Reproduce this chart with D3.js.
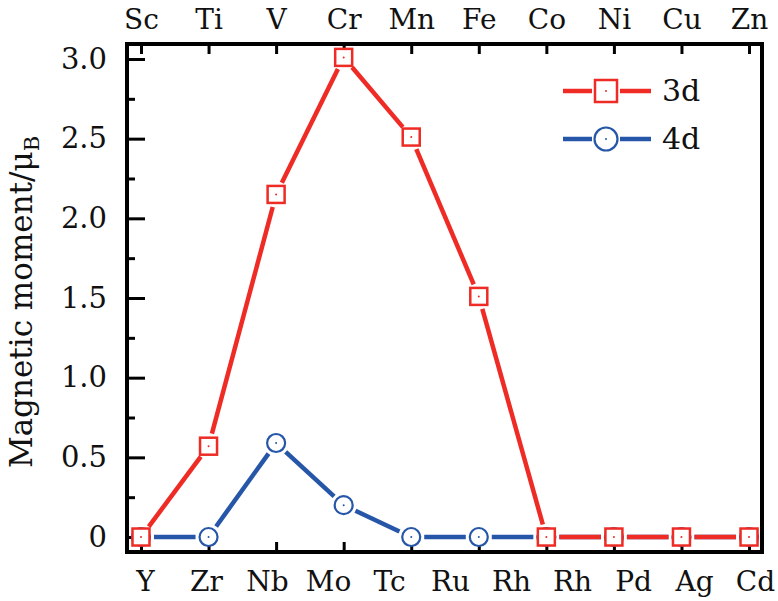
<!DOCTYPE html>
<html>
<head>
<meta charset="utf-8">
<script src="https://cdn.jsdelivr.net/npm/d3@7"></script>
<style>
  body { margin: 0; background: #fff; }
  svg text { font-family: "DejaVu Serif", "Liberation Serif", serif; fill: #111; }
</style>
</head>
<body>
<svg id="chart" width="778" height="601"></svg>
<script>
const topLabels = ["Sc","Ti","V","Cr","Mn","Fe","Co","Ni","Cu","Zn"];
const bottomLabels = ["Y","Zr","Nb","Mo","Tc","Ru","Rh","Rh","Pd","Ag","Cd"];
const values3d = [0, 0.57, 2.15, 3.01, 2.51, 1.51, 0, 0, 0, 0];
const values4d = [0, 0, 0.59, 0.20, 0, 0, 0, 0, 0, 0];
const yMajorTicks = [0, 0.5, 1.0, 1.5, 2.0, 2.5, 3.0];
const yMinorTicks = [0.25, 0.75, 1.25, 1.75, 2.25, 2.75];
const seriesNames = ["3d", "4d"];

const RED = "#ee2b24", BLUE = "#2656a8";
const L = 127, R = 762, T = 44, B = 552;

const svg = d3.select("#chart");
const x = d3.scaleLinear().domain([-0.207, 9.192]).range([L, R]);
const y = d3.scaleLinear().domain([-0.094, 3.094]).range([B, T]);
const xb = d3.scalePoint().domain(d3.range(bottomLabels.length)).range([145, 755]);

function styleAxis(g, fs) {
  g.select(".domain").remove();
  g.selectAll(".tick line").attr("stroke", "#000").attr("stroke-width", 3);
  g.selectAll(".tick text").attr("font-family", "DejaVu Serif").attr("font-size", fs).attr("fill", "#111");
}

// Y axis majors and minors
svg.append("g").attr("transform", `translate(${L},0)`)
  .call(d3.axisLeft(y).tickValues(yMajorTicks).tickSize(-18).tickPadding(20)
    .tickFormat(d => d === 0 ? "0" : d3.format(".1f")(d)))
  .call(g => styleAxis(g, 29));
svg.append("g").attr("transform", `translate(${L},0)`)
  .call(d3.axisLeft(y).tickValues(yMinorTicks).tickSize(-8).tickFormat(""))
  .call(g => styleAxis(g, 29));

// Top axis
svg.append("g").attr("transform", `translate(0,${T})`)
  .call(d3.axisTop(x).tickValues(d3.range(topLabels.length)).tickSize(-10).tickPadding(15)
    .tickFormat(i => topLabels[i]))
  .call(g => styleAxis(g, 28));

// Bottom ticks
svg.append("g").attr("transform", `translate(0,${B})`)
  .call(d3.axisBottom(x).tickValues(d3.range(topLabels.length)).tickSize(-10).tickFormat(""))
  .call(g => styleAxis(g, 28));

// Bottom labels
svg.append("g").attr("transform", `translate(0,${B})`)
  .call(d3.axisBottom(xb).tickSize(0).tickPadding(19).tickFormat(i => bottomLabels[i]))
  .call(g => styleAxis(g, 28));

// Frame
svg.append("rect").attr("x", L).attr("y", T).attr("width", R - L).attr("height", B - T)
  .attr("fill", "none").attr("stroke", "#000").attr("stroke-width", 4);

// Y title
const title = svg.append("text")
  .attr("transform", `translate(32,302) rotate(-90)`)
  .attr("text-anchor", "middle")
  .attr("font-size", 31);
title.append("tspan").text("Magnetic moment/μ");
title.append("tspan").attr("font-size", 21).attr("dy", 7).text("B");

function drawSeries(vals, color, kind) {
  const pts = vals.map((v, i) => [x(i), y(v)]);
  const trim = 13;
  const g = svg.append("g");
  for (let i = 0; i < pts.length - 1; i++) {
    const [x1, y1] = pts[i], [x2, y2] = pts[i + 1];
    const dx = x2 - x1, dy = y2 - y1, len = Math.hypot(dx, dy);
    const ux = dx / len, uy = dy / len;
    g.append("line")
      .attr("x1", x1 + ux * trim).attr("y1", y1 + uy * trim)
      .attr("x2", x2 - ux * trim).attr("y2", y2 - uy * trim)
      .attr("stroke", color).attr("stroke-width", 4.5);
  }
  pts.forEach(([px, py]) => drawMarker(g, px, py, color, kind, 17));
}

function drawMarker(g, px, py, color, kind, size) {
  if (kind === "square") {
    g.append("rect").attr("x", px - size / 2).attr("y", py - size / 2)
      .attr("width", size).attr("height", size)
      .attr("fill", "#fff").attr("stroke", color).attr("stroke-width", 2.5);
  } else {
    g.append("circle").attr("cx", px).attr("cy", py).attr("r", size / 2 + 0.5)
      .attr("fill", "#fff").attr("stroke", color).attr("stroke-width", 2.2);
  }
  g.append("circle").attr("cx", px).attr("cy", py).attr("r", 1).attr("fill", color);
}

drawSeries(values4d, BLUE, "circle");
drawSeries(values3d, RED, "square");

// Legend
const legend = [[seriesNames[0], RED, "square", 91], [seriesNames[1], BLUE, "circle", 139]];
legend.forEach(([name, color, kind, ly]) => {
  const g = svg.append("g");
  g.append("line").attr("x1", 563).attr("x2", 592).attr("y1", ly).attr("y2", ly)
    .attr("stroke", color).attr("stroke-width", 4.5);
  g.append("line").attr("x1", 620).attr("x2", 651).attr("y1", ly).attr("y2", ly)
    .attr("stroke", color).attr("stroke-width", 4.5);
  drawMarker(g, 606, ly, color, kind, 22);
  g.append("text").attr("x", 662).attr("y", ly + 10).attr("font-size", 30).text(name);
});
</script>
</body>
</html>
